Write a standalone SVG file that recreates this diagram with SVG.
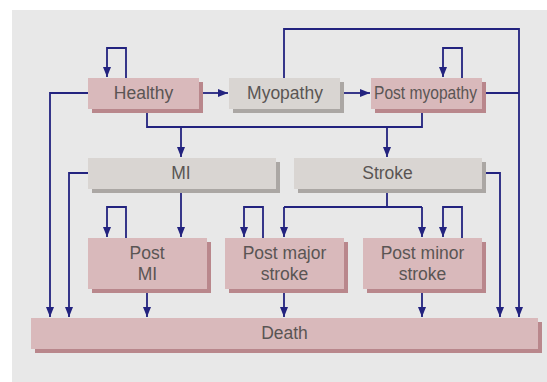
<svg xmlns="http://www.w3.org/2000/svg" width="547" height="382" viewBox="0 0 547 382">
<style>
.pink{fill:#d9b9bb}
.pinksh{fill:#b9878c}
.grey{fill:#d9d5d2}
.greysh{fill:#aba7a4}
.lbl{font-family:"Liberation Sans",Arial,sans-serif;font-size:17.5px;fill:#5a5554;text-anchor:middle}
.c{fill:none;stroke:#23237f;stroke-width:1.8}
</style>
<defs>
<marker id="ah" markerUnits="userSpaceOnUse" markerWidth="11" markerHeight="9" refX="10" refY="4" orient="auto">
<path d="M0,0 L10,4 L0,8 z" fill="#23237f"/>
</marker>
</defs>
<rect x="0" y="0" width="547" height="382" fill="#ffffff"/>
<rect x="12" y="10" width="535" height="372" fill="#e8e8e8"/>
<g id="connectors">
<path class="c" d="M126,78 V48 H107 V77" marker-end="url(#ah)"/>
<path class="c" d="M199,93 H228" marker-end="url(#ah)"/>
<path class="c" d="M340,93 H370" marker-end="url(#ah)"/>
<path class="c" d="M284,78 V29 H519 V317" marker-end="url(#ah)"/>
<path class="c" d="M462,78 V48 H443 V77" marker-end="url(#ah)"/>
<path class="c" d="M482,93 H519"/>
<path class="c" d="M88,93 H50 V317" marker-end="url(#ah)"/>
<path class="c" d="M147,108 V127 H422 V108"/>
<path class="c" d="M181,127 V157" marker-end="url(#ah)"/>
<path class="c" d="M387,127 V157" marker-end="url(#ah)"/>
<path class="c" d="M88,173 H69 V317" marker-end="url(#ah)"/>
<path class="c" d="M181,188 V237" marker-end="url(#ah)"/>
<path class="c" d="M126,238 V207 H107 V237" marker-end="url(#ah)"/>
<path class="c" d="M147,289 V317" marker-end="url(#ah)"/>
<path class="c" d="M387,188 V207"/>
<path class="c" d="M284,207 H422"/>
<path class="c" d="M284,207 V237" marker-end="url(#ah)"/>
<path class="c" d="M422,207 V237" marker-end="url(#ah)"/>
<path class="c" d="M263,238 V207 H244 V237" marker-end="url(#ah)"/>
<path class="c" d="M462,238 V207 H443 V237" marker-end="url(#ah)"/>
<path class="c" d="M482,173 H500 V317" marker-end="url(#ah)"/>
<path class="c" d="M284,289 V317" marker-end="url(#ah)"/>
<path class="c" d="M422,289 V317" marker-end="url(#ah)"/>
</g>
<g id="healthy">
<rect class="pinksh" x="92" y="82" width="111" height="31"/>
<rect class="pink" x="88" y="78" width="111" height="31"/>
<text class="lbl" x="143.5" y="99">Healthy</text>
</g>
<g id="myopathy">
<rect class="greysh" x="233" y="82" width="111" height="31"/>
<rect class="grey" x="229" y="78" width="111" height="31"/>
<text class="lbl" x="285" y="99">Myopathy</text>
</g>
<g id="post-myopathy">
<rect class="pinksh" x="375" y="82" width="111" height="31"/>
<rect class="pink" x="371" y="78" width="111" height="31"/>
<text class="lbl" x="425.5" y="99" textLength="103" lengthAdjust="spacingAndGlyphs">Post myopathy</text>
</g>
<g id="mi">
<rect class="greysh" x="92" y="162" width="188" height="31"/>
<rect class="grey" x="88" y="158" width="188" height="31"/>
<text class="lbl" x="181" y="179">MI</text>
</g>
<g id="stroke">
<rect class="greysh" x="298" y="162" width="188" height="31"/>
<rect class="grey" x="294" y="158" width="188" height="31"/>
<text class="lbl" x="387.5" y="179">Stroke</text>
</g>
<g id="post-mi">
<rect class="pinksh" x="92" y="242" width="119" height="51"/>
<rect class="pink" x="88" y="238" width="119" height="51"/>
<text class="lbl" x="147" y="259">Post</text>
<text class="lbl" x="147.5" y="280">MI</text>
</g>
<g id="post-major-stroke">
<rect class="pinksh" x="229" y="242" width="119" height="51"/>
<rect class="pink" x="225" y="238" width="119" height="51"/>
<text class="lbl" x="284.5" y="259">Post major</text>
<text class="lbl" x="284.5" y="280">stroke</text>
</g>
<g id="post-minor-stroke">
<rect class="pinksh" x="367" y="242" width="119" height="51"/>
<rect class="pink" x="363" y="238" width="119" height="51"/>
<text class="lbl" x="422.5" y="259">Post minor</text>
<text class="lbl" x="422.5" y="280">stroke</text>
</g>
<g id="death">
<rect class="pinksh" x="35" y="322" width="507" height="31"/>
<rect class="pink" x="31" y="318" width="507" height="31"/>
<text class="lbl" x="284.5" y="339">Death</text>
</g>
</svg>
